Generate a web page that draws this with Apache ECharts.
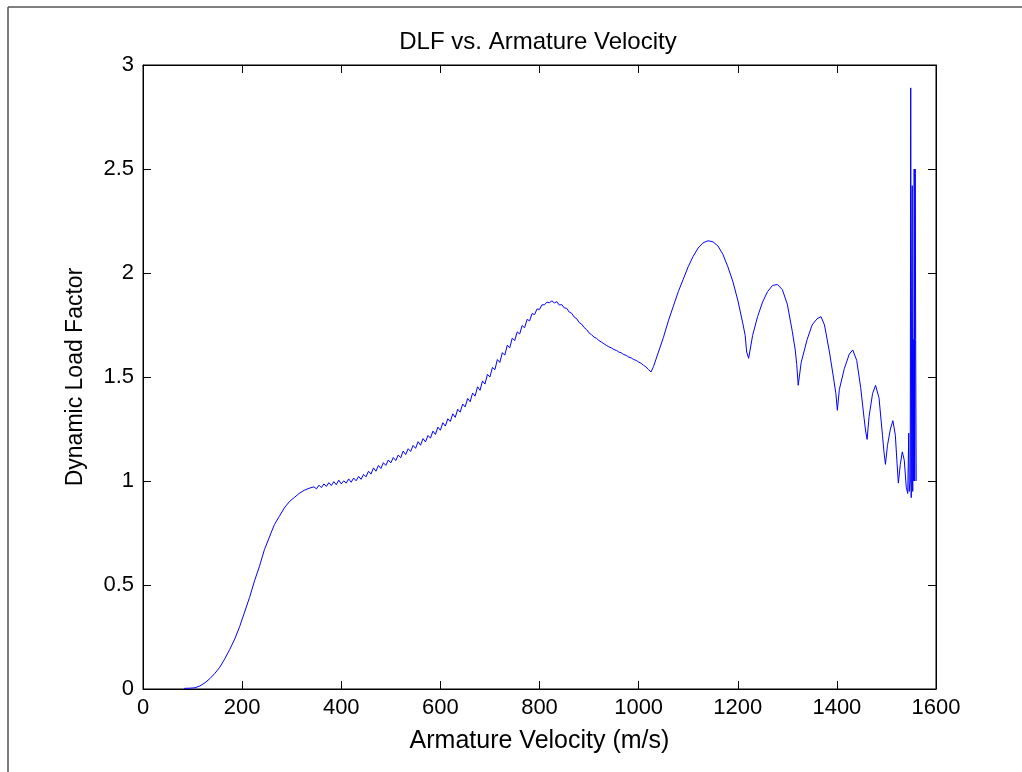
<!DOCTYPE html>
<html>
<head>
<meta charset="utf-8">
<script src="https://cdn.jsdelivr.net/npm/echarts@6/dist/echarts.min.js"></script>
<style>html,body{margin:0;padding:0;background:#fff;}#c{width:1022px;height:772px;}</style>
</head>
<body>
<div id="c"></div>
<script>
const chartTitle = "DLF vs. Armature Velocity";
const xAxisName = "Armature Velocity (m/s)";
const yAxisName = "Dynamic Load Factor";
const xTicks = [0, 200, 400, 600, 800, 1000, 1200, 1400, 1600];
const yTicks = [0, 0.5, 1, 1.5, 2, 2.5, 3];

// Armature velocity (m/s) and dynamic load factor
const velocity = [
  83, 95, 105, 115, 125, 135, 145, 155, 165, 175, 185, 195, 205, 215, 225, 235, 245, 255, 265, 275,
  285, 295, 305, 315, 325, 335, 345,
  350, 355, 360, 365, 370, 375, 380, 385, 390, 395, 400, 405, 410, 415, 420, 425, 430, 435, 440, 445,
  450, 455, 460, 465, 470, 475, 480, 485, 490, 495, 500, 505, 510, 515, 520, 525, 530, 535, 540, 545,
  550, 555, 560, 565, 570, 575, 580, 585, 590, 595, 600, 605, 610, 615, 620, 625, 630, 635, 640, 645,
  650, 655, 660, 665, 670, 675, 680, 685, 690, 695, 700, 705, 710, 715, 720, 725, 730, 735, 740, 745,
  750, 755, 760, 765, 770, 775, 780, 785, 790, 795, 800, 805, 810, 815, 820, 825, 830, 835, 840, 845,
  850, 855, 860, 865, 870, 875, 880, 885, 890, 895, 900, 905, 910, 915, 920, 925, 930, 935, 940, 945,
  950, 955, 960, 965, 970, 975, 980, 985, 990, 995, 1000, 1005, 1010, 1015, 1020, 1025,
  1030, 1040, 1050, 1060, 1070, 1080, 1090, 1100, 1110, 1120, 1130, 1140, 1150, 1160, 1170, 1180,
  1190, 1200, 1210, 1215, 1218, 1222, 1230, 1240, 1250, 1260, 1270, 1280, 1290, 1300, 1310, 1316,
  1319, 1322, 1328, 1340, 1350, 1360, 1368, 1375, 1385, 1393, 1398, 1401, 1405, 1415, 1425, 1432,
  1440, 1448, 1455, 1458, 1461, 1465, 1472, 1478, 1485, 1492, 1495, 1498, 1502, 1508, 1513, 1518,
  1521, 1524, 1528, 1532, 1536, 1540, 1543, 1545, 1546, 1548, 1549, 1550, 1551, 1552, 1553, 1554,
  1555, 1556, 1557, 1558, 1559, 1560
];
const dlf = [
  0.003, 0.004, 0.006, 0.015, 0.03, 0.05, 0.075, 0.105, 0.145, 0.19, 0.24, 0.30, 0.37, 0.44, 0.52, 0.59, 0.67, 0.73, 0.79, 0.83,
  0.87, 0.90, 0.92, 0.94, 0.955, 0.965, 0.972,
  0.962, 0.980, 0.968, 0.986, 0.974, 0.992, 0.978, 0.997, 0.982, 1.004, 0.986, 1.001, 0.990, 1.010, 0.994, 1.014, 1.001, 1.022, 1.008, 1.032,
  1.020, 1.047, 1.033, 1.063, 1.047, 1.075, 1.060, 1.088, 1.075, 1.101, 1.087, 1.113, 1.098, 1.125, 1.112, 1.144, 1.127, 1.155, 1.142, 1.171,
  1.157, 1.189, 1.172, 1.204, 1.188, 1.219, 1.206, 1.240, 1.224, 1.259, 1.244, 1.280, 1.264, 1.299, 1.286, 1.323, 1.306, 1.345, 1.331, 1.370,
  1.356, 1.397, 1.381, 1.423, 1.408, 1.453, 1.436, 1.481, 1.466, 1.513, 1.500, 1.546, 1.535, 1.584, 1.570, 1.617, 1.605, 1.653, 1.640, 1.687,
  1.675, 1.717, 1.707, 1.747, 1.737, 1.777, 1.770, 1.805, 1.800, 1.827, 1.825, 1.847, 1.847, 1.860, 1.857, 1.866, 1.856, 1.862, 1.846, 1.848,
  1.832, 1.830, 1.812, 1.806, 1.788, 1.780, 1.762, 1.754, 1.738, 1.728, 1.712, 1.703, 1.692, 1.686, 1.675, 1.668, 1.660, 1.652, 1.645, 1.640,
  1.632, 1.628, 1.620, 1.616, 1.608, 1.604, 1.596, 1.592, 1.584, 1.580, 1.572, 1.566, 1.556, 1.548, 1.536, 1.524,
  1.55, 1.62, 1.69, 1.77, 1.84, 1.91, 1.97, 2.03, 2.08, 2.12, 2.145, 2.155, 2.15, 2.13, 2.09, 2.03,
  1.96, 1.87, 1.76, 1.70, 1.62, 1.59, 1.70, 1.79, 1.86, 1.91, 1.94, 1.945, 1.92, 1.85, 1.72, 1.63,
  1.56, 1.46, 1.57, 1.68, 1.75, 1.78, 1.79, 1.75, 1.62, 1.50, 1.42, 1.34, 1.44, 1.54, 1.61, 1.63,
  1.58, 1.45, 1.30, 1.24, 1.20, 1.31, 1.42, 1.46, 1.40, 1.22, 1.14, 1.08, 1.17, 1.25, 1.29, 1.22,
  1.10, 0.99, 1.08, 1.14, 1.10, 0.97, 0.94, 1.23, 0.95, 1.00, 2.89, 0.92, 1.93, 2.42, 0.95, 1.68,
  1.00, 2.50, 1.00, 2.50, 1.68, 1.00
];

const chart = echarts.init(document.getElementById('c'), null, {renderer: 'canvas'});
const font = 'Liberation Sans, Arial, Helvetica, sans-serif';
const axisCommon = {
  axisLine: {show: true, onZero: false, lineStyle: {color: '#000', width: 1}},
  axisTick: {show: true, inside: true, length: 8, lineStyle: {color: '#000'}},
  splitLine: {show: false}
};
chart.setOption({
  animation: false,
  backgroundColor: '#fff',
  title: {
    text: chartTitle, left: 533, top: 25, textAlign: 'center',
    textStyle: {fontFamily: font, fontSize: 24, fontWeight: 'normal', color: '#000'}
  },
  grid: {left: 143, right: 86, top: 65, bottom: 83, show: true, borderColor: '#000', borderWidth: 1},
  xAxis: [
    Object.assign({
      type: 'value', min: 0, max: 1600, interval: 200, position: 'bottom',
      name: xAxisName, nameLocation: 'middle', nameGap: 40,
      nameTextStyle: {fontFamily: font, fontSize: 25, color: '#000'},
      axisLabel: {fontFamily: font, fontSize: 22, color: '#000', margin: 8,
        formatter: v => xTicks.includes(v) ? String(v) : ''}
    }, axisCommon),
    Object.assign({type: 'value', min: 0, max: 1600, interval: 200, position: 'top', axisLabel: {show: false}}, axisCommon)
  ],
  yAxis: [
    Object.assign({
      type: 'value', min: 0, max: 3, interval: 0.5, position: 'left',
      name: yAxisName, nameLocation: 'middle', nameGap: 56,
      nameTextStyle: {fontFamily: font, fontSize: 23, color: '#000'},
      axisLabel: {fontFamily: font, fontSize: 22, color: '#000', margin: 9,
        formatter: v => yTicks.includes(v) ? String(v) : ''}
    }, axisCommon),
    Object.assign({type: 'value', min: 0, max: 3, interval: 0.5, position: 'right', axisLabel: {show: false}}, axisCommon)
  ],
  series: [{
    type: 'line', xAxisIndex: 0, yAxisIndex: 0,
    data: velocity.map((v, i) => [v, dlf[i]]),
    showSymbol: false, symbol: 'none',
    lineStyle: {color: '#0000ff', width: 1},
    smooth: false
  }, {
    type: 'line', xAxisIndex: 1, yAxisIndex: 1, data: [], showSymbol: false, silent: true
  }],
  graphic: [
    {type: 'line', shape: {x1: 8, y1: 7, x2: 1022, y2: 7}, style: {stroke: '#555', lineWidth: 1.5}, silent: true},
    {type: 'line', shape: {x1: 8, y1: 7, x2: 8, y2: 772}, style: {stroke: '#555', lineWidth: 1.5}, silent: true}
  ]
});
</script>
</body>
</html>
